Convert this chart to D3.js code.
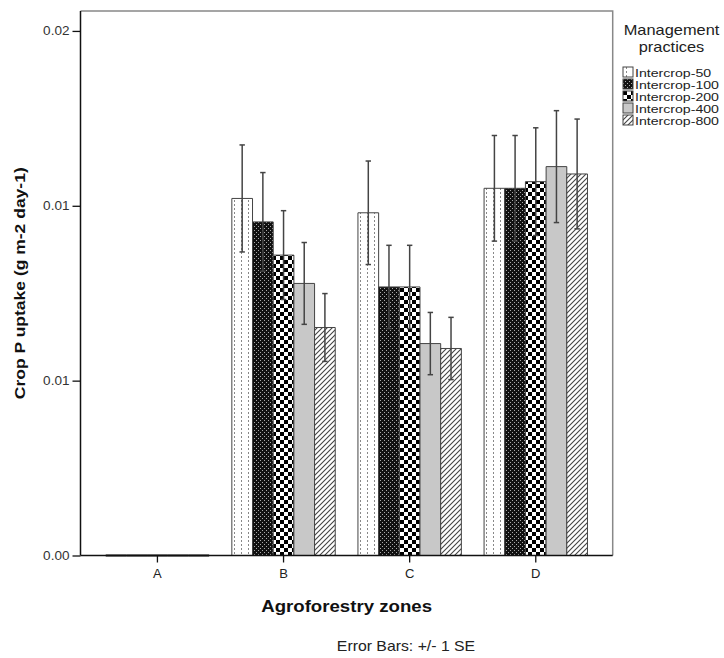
<!DOCTYPE html>
<meta charset="utf-8">
<style>
  body { margin: 0; background: #fff; }
  text { font-family: "Liberation Sans", Arial, sans-serif; }
</style>
<body>
<script src="https://d3js.org/d3.v7.min.js"></script>
<script>
// zones on the x axis and the five practices (legend order)
var zones = ["A", "B", "C", "D"];
var practices = ["Intercrop-50", "Intercrop-100", "Intercrop-200", "Intercrop-400", "Intercrop-800"];

// mean crop P uptake per zone, one array per practice
var ic50  = [0, 0.01021, 0.00980, 0.01050];
var ic100 = [0, 0.00954, 0.00768, 0.01050];
var ic200 = [0, 0.00859, 0.00768, 0.01069];
var ic400 = [0, 0.00778, 0.00606, 0.01112];
var ic800 = [0, 0.00652, 0.00592, 0.01091];

// standard errors
var se50  = [0, 0.00153, 0.00148, 0.00151];
var se100 = [0, 0.00141, 0.00119, 0.00151];
var se200 = [0, 0.00127, 0.00119, 0.00154];
var se400 = [0, 0.00117, 0.00089, 0.00160];
var se800 = [0, 0.00097, 0.00089, 0.00157];

var yTicks = [0, 0.005, 0.01, 0.015];
var yTickLabels = ["0.00", "0.01", "0.01", "0.02"];

var means = [ic50, ic100, ic200, ic400, ic800];
var ses = [se50, se100, se200, se400, se800];

// flat rows for drawing
var rows = [];
zones.forEach(function(z, zi) {
  practices.forEach(function(p, pi) {
    rows.push({zone: z, practice: p, pi: pi, mean: means[pi][zi], se: ses[pi][zi]});
  });
});

var W = 724, H = 658;
var plot = {left: 80.5, right: 612.7, top: 11, bottom: 555.5};
var sx = 1.13; // text in the original is a bit wide

var svg = d3.select("body").append("svg")
    .attr("width", W)
    .attr("height", H);

// patterns
var defs = svg.append("defs");

var pat = defs.append("pattern").attr("id", "p0").attr("patternUnits", "userSpaceOnUse")
    .attr("width", 7).attr("height", 4);
pat.append("rect").attr("width", 7).attr("height", 4).attr("fill", "#fff");
pat.append("rect").attr("x", 3).attr("y", 0).attr("width", 1).attr("height", 2).attr("fill", "#888");

pat = defs.append("pattern").attr("id", "p1").attr("patternUnits", "userSpaceOnUse")
    .attr("width", 4).attr("height", 4);
pat.append("rect").attr("width", 4).attr("height", 4).attr("fill", "#111");
pat.append("rect").attr("x", 0).attr("y", 0).attr("width", 1).attr("height", 1).attr("fill", "#aaa");
pat.append("rect").attr("x", 2).attr("y", 2).attr("width", 1).attr("height", 1).attr("fill", "#aaa");

pat = defs.append("pattern").attr("id", "p2").attr("patternUnits", "userSpaceOnUse")
    .attr("width", 8).attr("height", 8);
pat.append("rect").attr("width", 8).attr("height", 8).attr("fill", "#fff");
pat.append("rect").attr("x", 0).attr("y", 0).attr("width", 4).attr("height", 4).attr("fill", "#000");
pat.append("rect").attr("x", 4).attr("y", 4).attr("width", 4).attr("height", 4).attr("fill", "#000");

pat = defs.append("pattern").attr("id", "p3").attr("patternUnits", "userSpaceOnUse")
    .attr("width", 4).attr("height", 4);
pat.append("rect").attr("width", 4).attr("height", 4).attr("fill", "#c8c8c8");

pat = defs.append("pattern").attr("id", "p4").attr("patternUnits", "userSpaceOnUse")
    .attr("width", 5).attr("height", 5);
pat.append("rect").attr("width", 5).attr("height", 5).attr("fill", "#fff");
pat.append("path").attr("d", "M0,5 L5,0 M-1,1 L1,-1 M4,6 L6,4")
    .attr("stroke", "#444").attr("stroke-width", 1.1);

// scales
var x0 = d3.scaleBand()
    .domain(zones)
    .range([plot.left, plot.right])
    .paddingInner(0.18)
    .paddingOuter(0.2);

var x1 = d3.scaleBand()
    .domain(practices)
    .range([0, x0.bandwidth()]);

var y = d3.scaleLinear()
    .domain([0, 0.01557])
    .range([plot.bottom, plot.top]);

// frame (top + right in grey)
svg.append("path")
    .attr("d", "M" + plot.left + "," + plot.top + "H" + plot.right + "V" + plot.bottom)
    .attr("fill", "none").attr("stroke", "#888").attr("stroke-width", 1.5);

// bars (path so zero-height bars still show)
svg.append("g").selectAll("path")
  .data(rows)
  .enter().append("path")
    .attr("d", function(d) {
      var xl = x0(d.zone) + x1(d.practice), w = x1.bandwidth();
      return "M" + xl + "," + y(0) + "V" + y(d.mean) + "H" + (xl + w) + "V" + y(0) + "Z";
    })
    .attr("fill", function(d) { return "url(#p" + d.pi + ")"; })
    .attr("stroke", function(d) { return d.mean === 0 ? "#111" : "#444"; })
    .attr("stroke-width", function(d) { return d.mean === 0 ? 2 : 1; });

// error bars
var eb = svg.append("g").selectAll("g")
  .data(rows.filter(function(d) { return d.se > 0; }))
  .enter().append("g")
    .attr("stroke", "#444").attr("stroke-width", 1.5);

eb.append("line")
    .attr("x1", function(d) { return x0(d.zone) + x1(d.practice) + x1.bandwidth() / 2; })
    .attr("x2", function(d) { return x0(d.zone) + x1(d.practice) + x1.bandwidth() / 2; })
    .attr("y1", function(d) { return y(d.mean - d.se); })
    .attr("y2", function(d) { return y(d.mean + d.se); });

[-1, 1].forEach(function(s) {
  eb.append("line")
      .attr("x1", function(d) { return x0(d.zone) + x1(d.practice) + x1.bandwidth() / 2 - 2.7; })
      .attr("x2", function(d) { return x0(d.zone) + x1(d.practice) + x1.bandwidth() / 2 + 2.7; })
      .attr("y1", function(d) { return y(d.mean + s * d.se); })
      .attr("y2", function(d) { return y(d.mean + s * d.se); });
});

// axes
var yAxis = svg.append("g")
    .attr("transform", "translate(" + plot.left + ",0)")
    .call(d3.axisLeft(y)
        .tickValues(yTicks)
        .tickSize(8)
        .tickPadding(3)
        .tickFormat(function(d, i) { return yTickLabels[i]; }));
yAxis.select(".domain").attr("d", "M0," + plot.top + "V" + plot.bottom).attr("stroke", "#111").attr("stroke-width", 1.5);
yAxis.selectAll(".tick line").attr("stroke", "#111").attr("stroke-width", 1.3);
yAxis.selectAll(".tick text")
    .attr("font-size", 12).attr("fill", "#333")
    .attr("font-family", "Liberation Sans, Arial, sans-serif")
    .attr("transform", "scale(" + sx + ",1)")
    .attr("x", -11 / sx);

var xAxis = svg.append("g")
    .attr("transform", "translate(0," + plot.bottom + ")")
    .call(d3.axisBottom(x0).tickSize(7).tickPadding(6));
xAxis.select(".domain").attr("d", "M" + plot.left + ",0H" + plot.right).attr("stroke", "#111").attr("stroke-width", 1.5);
xAxis.selectAll(".tick line").attr("stroke", "#111").attr("stroke-width", 1.3);
xAxis.selectAll(".tick text")
    .attr("font-size", 13).attr("fill", "#222")
    .attr("font-family", "Liberation Sans, Arial, sans-serif");

// titles
svg.append("text")
    .attr("transform", "translate(" + ((plot.left + plot.right) / 2) + ",612) scale(" + sx + ",1)")
    .attr("text-anchor", "middle")
    .attr("font-size", 16.5).attr("font-weight", "bold").attr("fill", "#111")
    .text("Agroforestry zones");

svg.append("text")
    .attr("transform", "translate(25," + ((plot.top + plot.bottom) / 2) + ") rotate(-90) scale(" + sx + ",1)")
    .attr("text-anchor", "middle")
    .attr("font-size", 15.5).attr("font-weight", "bold").attr("fill", "#111")
    .text("Crop P uptake (g m-2 day-1)");

svg.append("text")
    .attr("transform", "translate(406,651) scale(" + sx + ",1)")
    .attr("text-anchor", "middle")
    .attr("font-size", 14).attr("fill", "#222")
    .text("Error Bars: +/- 1 SE");

// legend
var lg = svg.append("g");
lg.append("text")
    .attr("transform", "translate(671.5,35) scale(" + sx + ",1)")
    .attr("text-anchor", "middle").attr("font-size", 14.5).attr("fill", "#222")
    .text("Management");
lg.append("text")
    .attr("transform", "translate(671.5,52) scale(" + sx + ",1)")
    .attr("text-anchor", "middle").attr("font-size", 14.5).attr("fill", "#222")
    .text("practices");

var item = lg.selectAll("g.item")
  .data(practices)
  .enter().append("g")
    .attr("class", "item")
    .attr("transform", function(d, i) { return "translate(623," + (67 + i * 12) + ")"; });
item.append("rect")
    .attr("width", 10).attr("height", 10)
    .attr("fill", function(d, i) { return "url(#p" + i + ")"; })
    .attr("stroke", "#444").attr("stroke-width", 1);
item.append("text")
    .attr("transform", "translate(12,9.5) scale(1.25,1)")
    .attr("font-size", 11.3).attr("fill", "#222")
    .text(function(d) { return d; });
</script>
</body>
